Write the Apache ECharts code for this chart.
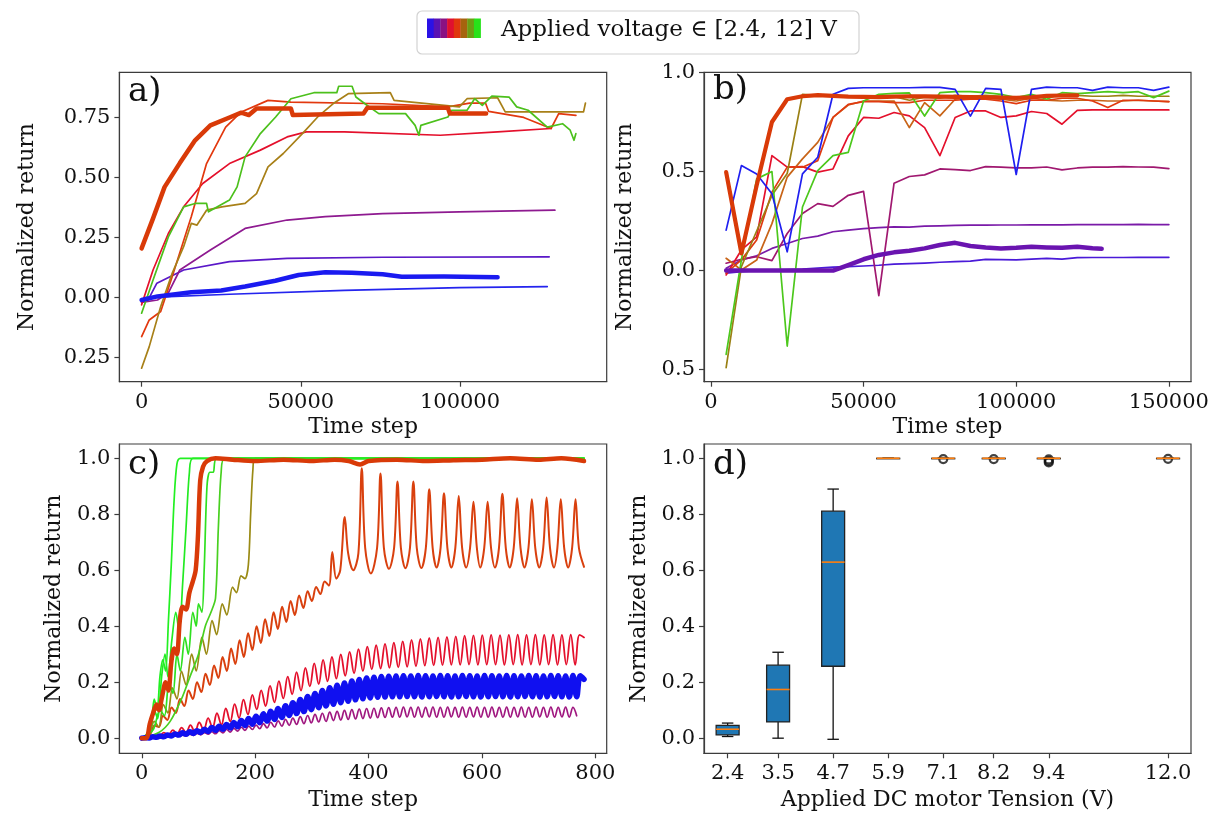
<!DOCTYPE html>
<html><head><meta charset="utf-8">
<script src="https://cdn.jsdelivr.net/npm/echarts@6.0.0/dist/echarts.min.js"></script>
<style>html,body{margin:0;padding:0;background:#fff}#c{width:1228px;height:818px}</style>
</head><body><div id="c"></div><script>
// ---------- legend ----------
const legendColors = ['#2a12e6','#5a12b4','#8a1282','#e01030','#e0360e','#a6640e','#6c9e14','#28e21a'];
const legendText = 'Applied voltage \u2208 [2.4, 12] V';
const panelLabels = ['a)','b)','c)','d)'];

// ---------- panel a : [time step, return] ----------
const aThickOrange = [[0,0.205],[3600,0.33],[7200,0.46],[12000,0.56],[16800,0.655],[21600,0.717],[27600,0.75],[31300,0.77],[33700,0.76],[36100,0.787],[46900,0.787],[47500,0.76],[69700,0.766],[70900,0.79],[96200,0.79],[96800,0.766],[108200,0.766]];
const aThickBlue = [[0,-0.01],[5000,0.005],[15600,0.022],[25000,0.03],[32500,0.046],[42000,0.07],[49300,0.094],[57700,0.106],[66000,0.104],[75700,0.097],[81700,0.087],[95000,0.088],[111800,0.085]];
const aBlue = [[0,-0.01],[1200,0.0],[27600,0.014],[63700,0.03],[99800,0.042],[127400,0.046]];
const aPurple = [[0,-0.02],[2000,-0.01],[4800,0.06],[13200,0.115],[27600,0.15],[45700,0.163],[75700,0.168],[128000,0.17]];
const aMagenta = [[0,-0.02],[5000,-0.01],[8400,0.02],[12000,0.115],[21600,0.198],[32500,0.288],[45700,0.323],[57700,0.337],[75700,0.35],[99800,0.357],[129800,0.364]];
const aCrimson = [[0,-0.03],[3600,0.115],[8400,0.267],[13200,0.378],[19200,0.475],[27600,0.558],[37300,0.614],[45700,0.669],[51700,0.69],[63700,0.69],[93800,0.676],[111800,0.69],[128600,0.704]];
const aOrangeRed = [[0,-0.162],[2400,-0.093],[6000,-0.058],[9600,0.087],[15600,0.337],[20400,0.558],[26400,0.71],[31300,0.773],[39700,0.821],[46900,0.814],[75700,0.807],[96200,0.794],[103000,0.81],[108000,0.81],[109000,0.775],[120000,0.75],[128600,0.704],[131000,0.766],[136400,0.759]];
const aGreen = [[0,-0.065],[3600,0.073],[8400,0.253],[13200,0.378],[16800,0.392],[20400,0.392],[21000,0.357],[27600,0.406],[30000,0.461],[32500,0.586],[37300,0.683],[42100,0.752],[46900,0.828],[54100,0.853],[61300,0.853],[61900,0.88],[66100,0.88],[67300,0.835],[70900,0.8],[74500,0.766],[82900,0.766],[85900,0.717],[87100,0.676],[87700,0.717],[96200,0.752],[97400,0.78],[102200,0.78],[104600,0.828],[107000,0.8],[110000,0.839],[115400,0.835],[117800,0.794],[121400,0.78],[127400,0.71],[132200,0.724],[134600,0.697],[135800,0.655],[136400,0.683]];
const aBrown = [[0,-0.294],[2400,-0.204],[6000,-0.037],[9600,0.101],[13200,0.212],[15600,0.309],[17400,0.302],[20400,0.364],[25200,0.378],[32500,0.392],[36100,0.433],[39700,0.544],[44500,0.6],[50500,0.683],[55300,0.752],[60100,0.807],[64900,0.849],[78100,0.853],[79300,0.821],[99800,0.794],[102200,0.828],[111800,0.832],[114200,0.773],[138800,0.773],[139400,0.81]];

// ---------- panel b ----------
const bX = [5000,10000,15000,20000,25000,30000,35000,40000,45000,50000,55000,60000,65000,70000,75000,80000,85000,90000,95000,100000,105000,110000,115000,120000,125000,130000,135000,140000,145000,150000];
const bBlue = [0.204,0.53,0.488,0.388,0.095,0.488,0.572,0.89,0.92,0.923,0.923,0.923,0.923,0.925,0.925,0.915,0.78,0.92,0.915,0.485,0.915,0.926,0.923,0.923,0.91,0.926,0.923,0.923,0.91,0.926];
const bMidPurple = [0.012,0.054,0.075,0.112,0.137,0.162,0.174,0.196,0.204,0.212,0.217,0.221,0.219,0.224,0.226,0.228,0.229,0.229,0.230,0.230,0.231,0.231,0.231,0.232,0.232,0.232,0.232,0.233,0.232,0.232];
const bLowPurple = [-0.013,-0.005,0.0,0.003,0.005,0.007,0.012,0.017,0.02,0.023,0.027,0.033,0.035,0.038,0.042,0.045,0.048,0.057,0.055,0.054,0.058,0.062,0.058,0.065,0.066,0.066,0.066,0.067,0.067,0.067];
const bMagenta = [0.037,0.057,0.07,0.05,0.187,0.288,0.338,0.324,0.38,0.4,-0.127,0.441,0.475,0.483,0.513,0.51,0.505,0.525,0.522,0.518,0.518,0.523,0.508,0.518,0.522,0.522,0.525,0.523,0.522,0.515];
const bCrimson = [-0.022,0.104,0.17,0.58,0.522,0.525,0.497,0.513,0.68,0.773,0.769,0.798,0.781,0.722,0.58,0.773,0.806,0.806,0.773,0.781,0.803,0.793,0.739,0.809,0.811,0.811,0.811,0.811,0.811,0.811];
const bOrangeBrown = [0.062,0.003,0.053,0.237,0.472,0.564,0.647,0.773,0.836,0.856,0.855,0.856,0.722,0.848,0.781,0.865,0.873,0.87,0.865,0.856,0.87,0.86,0.856,0.86,0.86,0.856,0.856,0.86,0.856,0.853];
const bOlive = [-0.49,0.02,0.2,0.38,0.49,0.89,0.885,0.885,0.88,0.875,0.88,0.878,0.86,0.875,0.87,0.885,0.88,0.885,0.88,0.87,0.885,0.88,0.885,0.885,0.88,0.88,0.885,0.88,0.88,0.88];
const bGreen = [-0.423,0.054,0.463,0.5,-0.381,0.321,0.505,0.58,0.597,0.856,0.89,0.895,0.897,0.78,0.898,0.903,0.903,0.898,0.89,0.873,0.89,0.865,0.898,0.893,0.898,0.903,0.898,0.903,0.873,0.906];
const bRedOrange = [-0.013,0.054,0.154,0.396,0.522,0.522,0.555,0.773,0.839,0.853,0.853,0.848,0.848,0.86,0.86,0.86,0.865,0.865,0.856,0.843,0.86,0.86,0.87,0.87,0.856,0.823,0.86,0.86,0.856,0.853];
const bThickOrangeX = [5000,10000,15000,20000,25000,30000,35000,40000,45000,50000,55000,60000,65000,70000,75000,80000,85000,90000,95000,100000,105000,110000,115000,120000];
const bThickOrange = [0.497,0.087,0.43,0.75,0.865,0.88,0.886,0.882,0.878,0.877,0.876,0.878,0.88,0.879,0.878,0.877,0.876,0.875,0.873,0.872,0.874,0.882,0.884,0.885];
const bThickPurpleX = [5000,10000,15000,20000,25000,30000,35000,40000,45000,50000,55000,60000,65000,70000,75000,80000,85000,90000,95000,100000,105000,110000,115000,120000,125000,128000];
const bThickPurple = [0,0,0,0,0,0,0,0,0.028,0.057,0.079,0.092,0.1,0.112,0.129,0.14,0.124,0.117,0.112,0.115,0.12,0.117,0.115,0.12,0.113,0.11];

// ---------- panel c ----------
const cGreen1 = [[0,0],[10,0.01],[18,0.08],[22,0.14],[27,0.1],[32,0.22],[37,0.28],[42,0.24],[47,0.42],[52,0.62],[57,0.85],[62,0.98],[68,1.0],[780,1.0]];
const cGreen2 = [[0,0],[15,0.03],[22,0.1],[28,0.07],[35,0.22],[41,0.3],[46,0.22],[53,0.35],[60,0.45],[66,0.38],[72,0.55],[78,0.75],[84,0.95],[90,1.0],[780,1.0]];
const cGreen3 = [[0,0],[20,0.03],[32,0.1],[40,0.08],[48,0.2],[55,0.16],[62,0.3],[68,0.24],[76,0.36],[82,0.3],[90,0.45],[96,0.4],[100,0.48],[106,0.45],[110,0.6],[115,0.9],[120,0.95],[126,0.95],[132,1.0],[780,1.0]];
const cGreen4 = [[0,0],[30,0.02],[50,0.06],[70,0.14],[85,0.22],[100,0.3],[112,0.4],[122,0.45],[130,0.5],[135,0.75],[140,0.95],[146,1.0],[780,1.0]];
const cOlive = [[0,0],[12,0.01],[22,0.06],[30,0.04],[38,0.12],[46,0.09],[54,0.18],[62,0.14],[70,0.24],[78,0.19],[88,0.3],[96,0.24],[106,0.36],[114,0.3],[124,0.42],[132,0.37],[142,0.48],[150,0.44],[160,0.54],[167,0.52],[175,0.58],[182,0.57],[188,0.62],[192,0.8],[196,0.96],[200,1.0],[780,1.0]];
const cThickOrange = [[0,0],[8,0.0],[14,0.05],[20,0.09],[26,0.12],[30,0.1],[36,0.15],[42,0.2],[47,0.17],[52,0.27],[57,0.32],[62,0.3],[67,0.42],[72,0.47],[78,0.46],[84,0.52],[90,0.56],[95,0.6],[99,0.72],[103,0.92],[108,0.97],[115,0.99],[130,1.0],[160,0.995],[200,0.99],[250,0.995],[300,0.99],[340,0.995],[365,0.99],[385,0.978],[400,0.99],[450,0.995],[500,0.99],[550,0.993],[600,0.995],[650,1.0],[700,0.995],[740,1.0],[780,0.99]];
const cOrangeOsc = [[0,0],[7.5,0.01],[15,0.015],[22.5,0.045],[30,0.04],[37.5,0.08],[45,0.065],[52.5,0.11],[60,0.09],[67.5,0.14],[75,0.115],[82.5,0.17],[90,0.14],[97.5,0.2],[105,0.165],[112.5,0.23],[120,0.19],[127.5,0.26],[135,0.215],[142.5,0.29],[150,0.24],[157.5,0.32],[165,0.265],[172.5,0.35],[180,0.29],[187.5,0.375],[195,0.315],[202.5,0.40],[210,0.34],[217.5,0.425],[225,0.365],[232.5,0.45],[240,0.39],[247.5,0.47],[255,0.415],[262.5,0.49],[270,0.44],[277.5,0.51],[285,0.465],[292.5,0.525],[300,0.49],[307.5,0.54],[315,0.515],[322.5,0.56],[330,0.545],[336,0.665],[343,0.57],[350,0.60],[358,0.79],[364,0.66],[373,0.60],[382,0.66],[388,0.964],[394,0.68],[404,0.588],[415,0.68],[421,0.946],[427,0.68],[436,0.605],[445,0.68],[451,0.917],[457,0.68],[465,0.607],[473,0.68],[479,0.917],[485,0.68],[493,0.608],[501,0.68],[507,0.889],[513,0.68],[520,0.61],[527,0.68],[533,0.875],[539,0.68],[546,0.61],[553,0.68],[559,0.865],[565,0.68],[572,0.61],[579,0.68],[585,0.845],[591,0.68],[597,0.61],[604,0.68],[610,0.845],[616,0.68],[623,0.61],[630,0.68],[636,0.873],[642,0.68],[649,0.61],[656,0.68],[662,0.857],[668,0.68],[675,0.61],[682,0.68],[688,0.854],[694,0.68],[701,0.61],[708,0.68],[714,0.86],[720,0.68],[727,0.61],[733,0.68],[739,0.854],[745,0.68],[752,0.61],[759,0.68],[765,0.854],[771,0.68],[780,0.612]];
const cCrimsonStep = 7.8;
const cCrimson = [0,0.004,0.003,0.012,0.007,0.020,0.011,0.029,0.015,0.038,0.019,0.047,0.022,0.056,0.029,0.072,0.038,0.089,0.048,0.106,0.060,0.122,0.072,0.138,0.085,0.155,0.103,0.171,0.115,0.187,0.128,0.204,0.142,0.220,0.157,0.236,0.170,0.251,0.185,0.267,0.193,0.280,0.203,0.290,0.213,0.299,0.223,0.308,0.232,0.318,0.240,0.327,0.246,0.332,0.249,0.337,0.251,0.341,0.253,0.346,0.255,0.351,0.257,0.355,0.259,0.358,0.260,0.360,0.261,0.362,0.262,0.364,0.262,0.366,0.263,0.367,0.262,0.368,0.263,0.369,0.263,0.368,0.262,0.369,0.263,0.370,0.262,0.369,0.263,0.370,0.262,0.369,0.263,0.370,0.262,0.369,0.263,0.370,0.262,0.369,0.36];
const cBlueStep = 6.5;
const cBlue = [0,0.002,0.001,0.005,0.003,0.008,0.005,0.011,0.008,0.015,0.011,0.019,0.014,0.023,0.017,0.027,0.020,0.032,0.024,0.038,0.028,0.043,0.032,0.049,0.036,0.056,0.041,0.063,0.045,0.070,0.050,0.078,0.055,0.087,0.061,0.096,0.067,0.106,0.074,0.116,0.081,0.127,0.088,0.138,0.095,0.149,0.102,0.160,0.109,0.170,0.115,0.180,0.121,0.189,0.127,0.197,0.132,0.204,0.137,0.210,0.141,0.215,0.144,0.218,0.146,0.220,0.147,0.221,0.148,0.222,0.148,0.223,0.149,0.222,0.148,0.224,0.147,0.223,0.148,0.222,0.149,0.224,0.148,0.223,0.147,0.222,0.148,0.224,0.149,0.223,0.148,0.222,0.147,0.224,0.148,0.223,0.149,0.222,0.148,0.224,0.147,0.223,0.148,0.222,0.149,0.224,0.148,0.223,0.147,0.222,0.148,0.224,0.149,0.223,0.148,0.222,0.147,0.224,0.148,0.223,0.21];
const cMagStep = 6.5;
const cMagenta = [0,0.001,0.001,0.003,0.002,0.005,0.003,0.007,0.005,0.009,0.006,0.011,0.008,0.014,0.010,0.017,0.012,0.020,0.014,0.023,0.016,0.027,0.019,0.031,0.022,0.035,0.025,0.039,0.028,0.043,0.031,0.047,0.034,0.052,0.037,0.057,0.040,0.062,0.043,0.067,0.046,0.072,0.049,0.077,0.052,0.081,0.055,0.085,0.058,0.089,0.060,0.093,0.063,0.096,0.065,0.099,0.067,0.102,0.069,0.104,0.070,0.106,0.072,0.107,0.073,0.108,0.074,0.109,0.075,0.110,0.075,0.111,0.076,0.110,0.075,0.111,0.075,0.110,0.076,0.111,0.075,0.110,0.075,0.111,0.076,0.110,0.075,0.111,0.075,0.110,0.076,0.111,0.075,0.110,0.075,0.111,0.076,0.110,0.075,0.111,0.075,0.110,0.076,0.111,0.075,0.110,0.075,0.111,0.076,0.110,0.075,0.111,0.075,0.110,0.076,0.111,0.075,0.110,0.08];

// ---------- panel d : boxplot ----------
const dVolts = [2.4,3.5,4.7,5.9,7.1,8.2,9.4,12.0];
const dMin = [0.006,0.0,-0.004,1.0,1.0,1.0,1.0,1.0];
const dQ1 = [0.012,0.058,0.257,1.0,1.0,1.0,1.0,1.0];
const dMedian = [0.032,0.174,0.629,1.0,1.0,1.0,1.0,1.0];
const dQ3 = [0.046,0.261,0.811,1.0,1.0,1.0,1.0,1.0];
const dMax = [0.054,0.307,0.89,1.0,1.0,1.0,1.0,1.0];
const dFliers = [[7.1,0.997],[8.2,0.997],[9.4,0.99],[9.4,0.985],[9.4,0.996],[12.0,0.998]];

// ---------- tick labels ----------
const aXTicks = [0,50000,100000];
const aYTicks = [-0.25,0,0.25,0.5,0.75];
const bXTicks = [0,50000,100000,150000];
const bYTicks = [-0.5,0,0.5,1.0];
const cXTicks = [0,200,400,600,800];
const cYTicks = [0,0.2,0.4,0.6,0.8,1.0];
const dYTicks = [0,0.2,0.4,0.6,0.8,1.0];

// ---------- build ----------
const FONT = '"DejaVu Serif", serif';
const AX = '#3c3c3c';
const zip = (xs, ys) => xs.map((x, i) => [x, ys[i]]);
const stepped = (step, ys) => ys.map((y, i) => [i * step, y]);
const noMinus = d => v => Math.abs(v).toFixed(d);

const grids = [
  {left:119.4, top:72.3, width:487.3, height:309.4},
  {left:704, top:72.3, width:487, height:309.4},
  {left:119.4, top:444, width:487.3, height:309.3},
  {left:704, top:444, width:487, height:309.3}
].map(g => Object.assign(g, {show:true, borderColor:AX, borderWidth:1.2, backgroundColor:'transparent', containLabel:false}));

function mkX(gi, min, max, ticks, fmt, name, gap) {
  return {type:'value', gridIndex:gi, min, max, name, nameLocation:'middle', nameGap:gap,
    nameTextStyle:{fontFamily:FONT, fontSize:22, color:'#111'},
    axisLine:{show:true, onZero:false, lineStyle:{color:AX, width:1.2}},
    axisTick:{show:true, length:5, customValues:ticks, lineStyle:{color:AX, width:1.2}},
    axisLabel:{customValues:ticks, formatter:fmt, margin:10, fontFamily:FONT, fontSize:21, color:'#111'},
    splitLine:{show:false}};
}
function mkY(gi, min, max, ticks, fmt, gap) {
  return {type:'value', gridIndex:gi, min, max, name:'Normalized return', nameLocation:'middle', nameGap:gap,
    nameTextStyle:{fontFamily:FONT, fontSize:22, color:'#111'},
    axisLine:{show:true, onZero:false, lineStyle:{color:AX, width:1.2}},
    axisTick:{show:true, length:5, customValues:ticks, lineStyle:{color:AX, width:1.2}},
    axisLabel:{customValues:ticks, formatter:fmt, margin:9, fontFamily:FONT, fontSize:21, color:'#111'},
    splitLine:{show:false}};
}
function ln(gi, data, color, width, z, smooth) {
  return {type:'line', xAxisIndex:gi, yAxisIndex:gi, data, symbol:'none', showSymbol:false,
    smooth: smooth || false, lineStyle:{color, width, cap:'round', join:'round'}, itemStyle:{color}, z: z || 2, silent:true};
}

const boxData = dVolts.map((v, i) => [v, dMin[i], dQ1[i], dMedian[i], dQ3[i], dMax[i]]);

const series = [
  // a
  ln(0, aBlue, '#2424ee', 1.7), ln(0, aPurple, '#5a18c8', 1.7), ln(0, aMagenta, '#8e1a90', 1.7),
  ln(0, aCrimson, '#e4102c', 1.7), ln(0, aOrangeRed, '#e2380e', 1.7), ln(0, aBrown, '#a88018', 1.7),
  ln(0, aGreen, '#4cc01c', 1.7), ln(0, aThickBlue, '#1a1af0', 4.5, 3), ln(0, aThickOrange, '#d93a08', 4.5, 3),
  // b
  ln(1, zip(bX, bLowPurple), '#4a1ad8', 1.7), ln(1, zip(bX, bMidPurple), '#7a1aa8', 1.7),
  ln(1, zip(bX, bMagenta), '#a01870', 1.7), ln(1, zip(bX, bCrimson), '#e4102c', 1.7),
  ln(1, zip(bX, bOrangeBrown), '#c86418', 1.7), ln(1, zip(bX, bRedOrange), '#e03a10', 1.7),
  ln(1, zip(bX, bOlive), '#9a8014', 1.7), ln(1, zip(bX, bGreen), '#4cc81c', 1.7),
  ln(1, zip(bX, bBlue), '#1f1ff0', 1.7),
  ln(1, zip(bThickPurpleX, bThickPurple), '#6a14b0', 4.5, 3), ln(1, zip(bThickOrangeX, bThickOrange), '#d93a08', 4.2, 3),
  // c
  ln(2, stepped(cMagStep, cMagenta), '#a01880', 1.7, 2, 0.4),
  ln(2, stepped(cCrimsonStep, cCrimson), '#e4102c', 1.8, 2, 0.4),
  ln(2, stepped(cBlueStep, cBlue), '#1010f0', 5.5, 3, 0.4),
  ln(2, cOrangeOsc, '#d9400e', 2, 2, 0.35),
  ln(2, cOlive, '#9a8a14', 1.7, 2, 0.3),
  ln(2, cGreen4, '#48d020', 1.7, 2, 0.3), ln(2, cGreen3, '#30e020', 1.7, 2, 0.3),
  ln(2, cGreen2, '#22ea22', 1.7, 2, 0.3), ln(2, cGreen1, '#22f022', 1.7, 2, 0.3),
  ln(2, cThickOrange, '#d93a08', 4.5, 4, 0.3),
  // d
  {type:'custom', xAxisIndex:3, yAxisIndex:3, data:boxData, encode:{x:0, y:[1,2,3,4,5]}, silent:true, z:3,
    renderItem(params, api) {
      const x = api.value(0);
      const lo = api.coord([x, api.value(1)]), q1 = api.coord([x, api.value(2)]), md = api.coord([x, api.value(3)]);
      const q3 = api.coord([x, api.value(4)]), hi = api.coord([x, api.value(5)]);
      const hw = api.size([0.5, 0])[0] / 2, cw = hw / 2, cx = lo[0];
      const blk = {stroke:'#111', lineWidth:1.3};
      return {type:'group', children:[
        {type:'line', shape:{x1:cx, y1:lo[1], x2:cx, y2:q1[1]}, style:blk},
        {type:'line', shape:{x1:cx, y1:q3[1], x2:cx, y2:hi[1]}, style:blk},
        {type:'line', shape:{x1:cx-cw, y1:lo[1], x2:cx+cw, y2:lo[1]}, style:blk},
        {type:'line', shape:{x1:cx-cw, y1:hi[1], x2:cx+cw, y2:hi[1]}, style:blk},
        {type:'rect', shape:{x:cx-hw, y:q3[1], width:2*hw, height:Math.max(q1[1]-q3[1], 0.5)}, style:{fill:'#1f77b4', stroke:'#222', lineWidth:1.3}},
        {type:'line', shape:{x1:cx-hw, y1:md[1], x2:cx+hw, y2:md[1]}, style:{stroke:'#ff7f0e', lineWidth:1.6}}
      ]};
    }},
  {type:'scatter', xAxisIndex:3, yAxisIndex:3, data:dFliers, symbol:'circle', symbolSize:8, silent:true, z:2,
    itemStyle:{color:'rgba(0,0,0,0)', borderColor:'#111', borderWidth:2.2}}
];

const labelPos = [[128,92],[713,90],[128,465],[713,465]];
const graphic = [
  {type:'rect', shape:{x:417, y:11, width:442, height:43, r:5}, style:{fill:'#fff', stroke:'#d2d2d2', lineWidth:1.2}, z:10},
  ...legendColors.map((c, i) => ({type:'rect', shape:{x:427 + i*6.7, y:18.5, width:7.0, height:19.5}, style:{fill:c}, z:11})),
  {type:'text', x:501, y:30, style:{text:legendText, font:'23px "DejaVu Serif"', fill:'#111', verticalAlign:'middle', textVerticalAlign:'middle'}, z:11},
  ...panelLabels.map((t, i) => ({type:'text', x:labelPos[i][0], y:labelPos[i][1], style:{text:t, font:'34px "DejaVu Serif"', fill:'#111', verticalAlign:'middle', textVerticalAlign:'middle'}, z:11}))
];

const chart = echarts.init(document.getElementById('c'), null, {renderer:'canvas'});
chart.setOption({
  animation:false, backgroundColor:'#fff',
  grid: grids,
  xAxis: [
    mkX(0, -6970, 146070, aXTicks, v => String(v), 'Time step', 35),
    mkX(1, -2250, 157250, bXTicks, v => String(v), 'Time step', 35),
    mkX(2, -39.5, 820, cXTicks, v => String(v), 'Time step', 36),
    mkX(3, 1.885, 12.5, dVolts, v => v.toFixed(1), 'Applied DC motor Tension (V)', 36)
  ],
  yAxis: [
    mkY(0, -0.35, 0.938, aYTicks, noMinus(2), 81),
    mkY(1, -0.561, 1.001, bYTicks, noMinus(1), 68),
    mkY(2, -0.054, 1.051, cYTicks, noMinus(1), 54),
    mkY(3, -0.054, 1.051, dYTicks, noMinus(1), 54)
  ],
  series, graphic
});
</script></body></html>
